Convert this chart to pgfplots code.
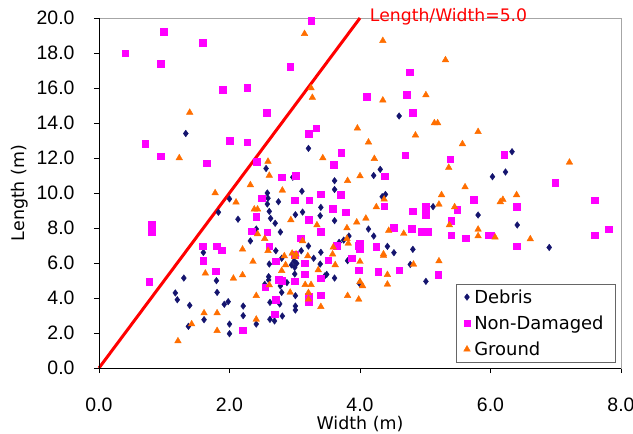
\documentclass[border=0pt]{standalone}
\usepackage{fontspec}
\setmainfont{Liberation Sans}
\newfontfamily\lblfont{DejaVu Sans}
\usepackage{pgfplots}
\pgfplotsset{compat=1.18}

\definecolor{debris}{RGB}{20,20,110}
\definecolor{nondam}{RGB}{255,0,255}
\definecolor{ground}{RGB}{255,110,0}

\begin{document}
\begin{tikzpicture}
\useasboundingbox (-99bp,-66bp) rectangle (534bp,368bp);
\begin{axis}[
    scale only axis,
    width=522bp, height=350bp,
    xmin=0, xmax=8, ymin=0, ymax=20,
    xtick={0,2,...,8}, ytick={0,2,...,20},
    tick pos=left, tick align=outside,
    major tick length=5bp,
    tick style={black, line width=0.6pt},
    axis line style={gray!70, line width=0.8pt},
    /pgf/number format/.cd, fixed, fixed zerofill, precision=1, assume math mode=true,
    /pgfplots/.cd,
    ticklabel style={font=\fontsize{19.5}{22}\selectfont},
    yticklabel style={xshift=-16bp},
    xticklabel style={yshift=-21bp},
    xlabel={Width (m)}, ylabel={Length (m)},
    label style={font=\lblfont\fontsize{17.5}{20}\selectfont},
    xlabel style={at={(axis description cs:0.5,-0.160)}, anchor=center},
    ylabel style={at={(axis description cs:-0.151,0.5)}, anchor=center},
    clip=false,
    legend cell align=left,
    legend image code/.code={\draw[#1] plot coordinates {(0bp,0bp)};},
    legend style={at={(0.990,0.017)}, anchor=south east, draw=gray!80!black,
        font=\lblfont\fontsize{18}{21}\selectfont, row sep=7bp,
        inner xsep=8bp, inner ysep=3bp,
        nodes={inner xsep=4bp}},
]
% Debris
\addplot[only marks, mark=diamond*, mark size=3.3bp, color=debris] coordinates {
(1.33,13.4) (4.60,14.4) (3.21,12.55) (2.56,11.4) (2.97,10.9) (3.61,10.7)
(3.11,10.1) (3.61,10.2) (2.58,10.0) (2.0,9.66) (1.83,8.9) (2.59,9.7)
(2.75,9.5) (2.58,9.37) (3.40,9.18) (2.61,8.95) (3.01,8.76) (3.12,8.91)
(3.39,8.7) (2.63,8.55) (3.61,8.42) (2.13,8.5) (2.70,8.27) (2.41,7.94)
(2.78,7.77) (2.32,7.26) (3.75,7.31) (3.83,7.54) (3.68,7.18) (3.21,6.97)
(2.71,6.70) (3.10,6.70) (3.40,6.61) (1.60,6.6) (4.31,11.35) (4.21,11.0)
(4.39,9.92) (4.34,9.79) (5.12,9.22) (5.81,8.74) (4.13,7.94) (4.21,7.54)
(4.42,6.95) (4.52,6.59) (4.81,6.78) (6.33,12.36) (6.23,11.2) (6.03,10.93)
(6.41,8.17) (6.90,6.89) (1.30,5.14) (1.80,4.99) (1.17,4.29) (1.81,4.32)
(1.20,3.90) (1.39,3.58) (1.92,3.64) (1.98,3.79) (1.37,2.38) (1.61,2.76)
(2.0,2.51) (2.0,1.96) (3.81,6.13) (2.61,5.94) (2.80,6.27) (2.99,6.11)
(3.03,5.98) (2.95,5.89) (3.0,5.75) (3.29,6.27) (3.39,5.94) (3.0,5.37)
(3.49,5.35) (3.46,5.26) (3.61,5.14) (2.60,5.22) (2.60,5.03) (2.88,4.88)
(2.54,4.78) (2.78,4.69) (3.99,4.84) (2.80,4.32) (3.01,4.13) (2.62,3.75)
(2.77,3.66) (3.01,3.54) (3.01,3.31) (2.21,3.54) (2.21,2.99) (2.81,2.97)
(2.62,2.78) (2.69,2.69) (2.41,2.51) (4.77,5.92) (5.01,4.95)
};
\addlegendentry{Debris}
% Non-Damaged
\addplot[only marks, mark=square*, mark size=3.3bp, color=nondam] coordinates {
(0.99,19.2) (1.59,18.6) (0.40,17.98) (0.95,17.4) (1.90,15.9) (3.25,19.85)
(2.93,17.2) (2.27,16.0) (2.57,14.6) (3.33,13.7) (3.21,13.4) (4.76,16.9)
(4.10,15.5) (4.72,15.6) (4.81,14.6) (0.71,12.8) (0.95,12.1) (1.65,11.7)
(2.0,13.0) (0.81,8.2) (0.81,7.8) (1.59,6.97) (1.80,6.97) (1.88,6.74)
(2.27,12.9) (3.71,12.3) (2.42,11.8) (3.60,11.6) (3.01,11.0) (2.80,10.9)
(3.70,9.9) (3.40,9.94) (2.49,9.7) (3.0,9.58) (3.22,9.58) (3.58,9.09)
(3.78,8.9) (2.41,8.65) (3.21,8.46) (2.34,7.81) (2.58,7.77) (3.40,7.79)
(3.09,7.41) (3.64,6.99) (3.97,6.99) (2.61,6.97) (4.69,12.17) (5.38,11.94)
(4.38,10.95) (5.74,9.62) (5.01,9.22) (5.49,9.03) (4.37,9.24) (4.81,8.95)
(5.01,8.76) (5.40,8.42) (4.52,8.02) (4.79,7.96) (4.95,7.8) (5.04,7.8)
(5.40,7.58) (5.62,7.41) (5.97,7.58) (4.0,7.12) (4.0,6.82) (4.25,6.93)
(6.21,12.2) (6.99,10.6) (7.60,9.58) (6.40,9.2) (7.81,7.94) (6.0,7.6)
(7.60,7.58) (6.40,6.95) (1.60,6.13) (1.79,5.54) (0.77,4.93) (3.87,6.27)
(2.71,6.11) (3.0,6.46) (3.15,5.98) (3.51,6.17) (3.98,5.6) (3.15,5.35)
(2.75,5.03) (2.81,4.99) (3.0,4.97) (2.55,4.61) (3.40,5.14) (3.40,4.17)
(3.21,4.07) (3.21,3.79) (2.71,3.92) (2.69,3.07) (2.20,2.17) (4.28,5.49)
(4.60,5.6) (5.20,5.33)
};
\addlegendentry{Non-Damaged}
% Ground
\addplot[only marks, mark=triangle*, mark size=3.8bp, color=ground] coordinates {
(1.39,14.6) (3.15,19.1) (3.25,16.0) (3.27,15.45) (3.96,13.7) (4.35,18.7)
(5.31,17.6) (5.01,15.6) (4.35,15.3) (5.14,14.0) (5.19,14.0) (5.81,13.5)
(4.85,13.3) (1.23,12.0) (1.78,10.0) (3.43,12.0) (2.59,11.8) (2.61,11.0)
(3.81,10.7) (2.32,10.46) (2.81,10.15) (2.10,9.47) (2.38,9.07) (2.43,9.07)
(2.94,8.46) (3.34,8.17) (3.80,8.0) (2.43,7.66) (2.54,7.39) (3.12,7.26)
(3.80,7.39) (3.82,7.12) (3.59,6.9) (2.20,6.78) (2.59,6.70) (2.96,6.55)
(3.02,6.5) (3.58,6.5) (4.13,12.9) (5.57,12.8) (4.22,11.96) (5.36,11.45)
(4.0,10.97) (5.61,10.34) (4.37,9.64) (5.25,9.89) (5.21,9.35) (5.45,9.2)
(4.25,9.2) (4.09,8.55) (3.95,8.33) (5.37,8.17) (4.44,7.85) (4.67,7.68)
(5.81,7.92) (5.81,7.54) (4.36,6.51) (7.21,11.75) (6.40,9.89) (6.15,9.49)
(6.19,9.62) (6.07,7.47) (6.61,7.37) (1.63,5.41) (1.61,3.14) (1.81,3.14)
(1.42,2.51) (1.81,2.13) (1.21,1.54) (2.84,6.4) (3.0,6.36) (3.20,6.4)
(2.36,6.08) (2.86,5.89) (3.62,5.89) (2.80,5.56) (3.36,5.6) (2.06,5.12)
(2.20,5.31) (2.61,4.74) (3.16,4.76) (3.25,4.76) (3.21,4.30) (2.93,4.32)
(3.21,3.93) (3.81,4.13) (2.41,4.13) (3.40,3.5) (2.41,2.78) (3.98,3.92)
(4.0,6.08) (4.36,6.42) (4.82,5.92) (5.21,6.11) (4.42,5.33) (4.0,4.93)
(4.04,4.69) (4.42,4.78)
};
\addlegendentry{Ground}
% Length/Width = 5 line
\addplot[red, line width=3bp, no marks, forget plot] coordinates {(0,0) (4,20)};
\draw[black, line width=0.8pt] (rel axis cs:0,1) -- (rel axis cs:0,0) -- (rel axis cs:1,0);
\node[anchor=west, text=red, font=\lblfont\fontsize{17.3}{20}\selectfont, inner sep=0pt]
    at (axis cs:4.15,20.05) {Length/Width=5.0};
\end{axis}
\end{tikzpicture}
\end{document}
